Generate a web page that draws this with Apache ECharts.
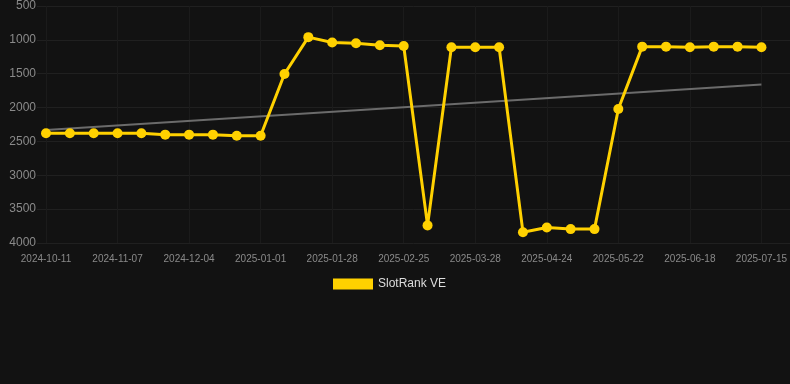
<!DOCTYPE html>
<html>
<head>
<meta charset="utf-8">
<script src="https://cdn.jsdelivr.net/npm/echarts@6/dist/echarts.min.js"></script>
<style>
html,body{margin:0;padding:0;background:#121212;}
#c{width:790px;height:384px;}
</style>
</head>
<body>
<div id="c"></div>
<script>
var categories = ['2024-10-11','2024-10-20','2024-10-29','2024-11-07','2024-11-16','2024-11-25','2024-12-04','2024-12-13','2024-12-22','2025-01-01','2025-01-10','2025-01-19','2025-01-28','2025-02-06','2025-02-15','2025-02-25','2025-03-07','2025-03-17','2025-03-28','2025-04-06','2025-04-15','2025-04-24','2025-05-03','2025-05-12','2025-05-22','2025-05-31','2025-06-09','2025-06-18','2025-06-27','2025-07-06','2025-07-15'];
var rankValues = [2380,2380,2380,2380,2380,2400,2400,2400,2415,2415,1505,960,1040,1050,1080,1090,3740,1110,1110,1110,3840,3770,3795,3795,2020,1100,1100,1110,1100,1100,1110];
var trendStart = 2330;
var trendEnd = 1660;
var yTicks = [500,1000,1500,2000,2500,3000,3500,4000];
var seriesName = 'SlotRank VE';

var font = 'Liberation Sans, Arial, sans-serif';
var chart = echarts.init(document.getElementById('c'), null, {renderer:'canvas'});
chart.setOption({
  backgroundColor:'#121212',
  animation:false,
  textStyle:{fontFamily:font},
  legend:{
    data:[seriesName],
    left:328, top:273,
    itemWidth:40, itemHeight:11, itemGap:10,
    icon:'rect',
    textStyle:{color:'#dddddd', fontSize:12, fontFamily:font}
  },
  grid:[
    {left:46, right:28, top:6, bottom:141, containLabel:false},
    {left:37, right:0, top:6, bottom:141, containLabel:false}
  ],
  xAxis:[
    {type:'category', gridIndex:0, data:categories, boundaryGap:false,
     axisLine:{show:false}, axisTick:{show:false},
     axisLabel:{interval:2, color:'#8a8a8a', fontSize:10, margin:11, fontFamily:font, showMaxLabel:true},
     splitLine:{show:true, interval:2, lineStyle:{color:'#1b1b1b', width:1}}},
    {type:'value', gridIndex:1, show:false, min:0, max:1}
  ],
  yAxis:[
    {type:'value', gridIndex:0, inverse:true, min:yTicks[0], max:yTicks[yTicks.length-1], interval:500, show:false, splitLine:{show:false}},
    {type:'value', gridIndex:1, inverse:true, min:yTicks[0], max:yTicks[yTicks.length-1], interval:500,
     axisLine:{show:false}, axisTick:{show:false},
     axisLabel:{color:'#8a8a8a', fontSize:12, margin:1, fontFamily:font, formatter:function(v){return String(v);}},
     splitLine:{show:true, lineStyle:{color:'#202020', width:1}}}
  ],
  series:[
    {name:'trend', type:'line', xAxisIndex:0, yAxisIndex:0,
     data:[[categories[0], trendStart],[categories[categories.length-1], trendEnd]],
     showSymbol:false, symbol:'none', silent:true,
     lineStyle:{color:'#6b6b6b', width:2}, z:1},
    {name:seriesName, type:'line', xAxisIndex:0, yAxisIndex:0,
     data:rankValues,
     symbol:'circle', symbolSize:10, showSymbol:true,
     itemStyle:{color:'#ffd100'},
     lineStyle:{color:'#ffd100', width:3},
     z:3}
  ]
});
</script>
</body>
</html>
